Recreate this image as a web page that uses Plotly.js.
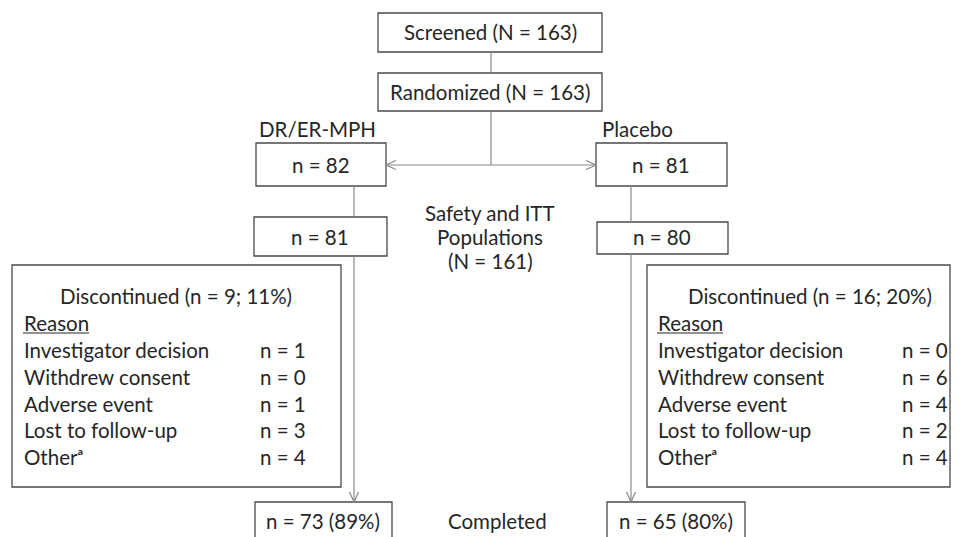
<!DOCTYPE html>
<html>
<head>
<meta charset="utf-8">
<script src="https://cdn.plot.ly/plotly-3.0.1.min.js"></script>
<style>html,body{margin:0;padding:0;background:#fff;}#chart{width:960px;height:537px;}</style>
</head>
<body>
<div id="chart"></div>
<script>
// ---- data ----
const screenedN = 163;
const randomizedN = 163;
const armNames = ["DR/ER-MPH", "Placebo"];
const armRandomized = [82, 81];
const armSafety = [81, 80];
const safetyITT = 161;
const discontinuedN = [9, 16];
const discontinuedPct = [11, 20];
const reasons = ["Investigator decision", "Withdrew consent", "Adverse event", "Lost to follow-up", "Other\u1D43"];
const reasonCountsLeft = [1, 0, 1, 3, 4];
const reasonCountsRight = [0, 6, 4, 2, 4];
const completedN = [73, 65];
const completedPct = [89, 80];

// ---- layout helpers ----
const FONT = "Lato, 'Noto Sans', 'DejaVu Sans', sans-serif";
const TXT = "#262626";
const BOX = "#4a4a4a";
const LINE = "#8a8a8a";
const FS = 20.5;
const shapes = [];
const annotations = [];

function box(x0, y0, x1, y1) {
  shapes.push({type: "rect", xref: "x", yref: "y", x0, y0, x1, y1,
    line: {color: BOX, width: 1.3}, fillcolor: "rgba(0,0,0,0)", layer: "below"});
}
function line(x0, y0, x1, y1, color, width) {
  shapes.push({type: "line", xref: "x", yref: "y", x0, y0, x1, y1,
    line: {color: color || LINE, width: width || 1.2}});
}
function text(x, y, t, anchor) {
  annotations.push({x, y, xref: "x", yref: "y", text: t, showarrow: false,
    xanchor: anchor || "center", yanchor: "middle",
    font: {family: FONT, size: FS, color: TXT}});
}
// open arrowhead: dir = 'down' | 'left' | 'right'
function head(x, y, dir) {
  const L = 10, W = 4.5;
  let p;
  if (dir === "down") p = `M${x - W},${y - L} L${x},${y} L${x + W},${y - L}`;
  else if (dir === "left") p = `M${x + L},${y - W} L${x},${y} L${x + L},${y + W}`;
  else p = `M${x - L},${y - W} L${x},${y} L${x - L},${y + W}`;
  shapes.push({type: "path", xref: "x", yref: "y", path: p, line: {color: LINE, width: 1.2}});
}

// Top boxes
box(378, 13, 602, 52);
text(490, 32, "Screened (N = " + screenedN + ")");
line(491, 52, 491, 73);
box(378, 73, 602, 111);
text(490, 92, "Randomized (N = " + randomizedN + ")");
line(491, 111, 491, 165);
line(386, 165, 596, 165);
head(386, 165, "left");
head(596, 165, "right");

// Arm labels
text(257, 129, armNames[0], "left");
text(600, 129, armNames[1], "left");

// Randomized arm boxes
box(256, 143, 386, 186);
text(321, 165, "n = " + armRandomized[0]);
box(596, 143, 727, 186);
text(661, 165, "n = " + armRandomized[1]);

// Connectors
line(354, 186, 354, 217);
line(631, 186, 631, 222);

// Safety boxes
box(254, 217, 387, 256);
text(320, 237, "n = " + armSafety[0]);
box(597, 222, 728, 254);
text(662, 237, "n = " + armSafety[1]);

// Center texts
text(490, 213, "Safety and ITT");
text(490, 237, "Populations");
text(490, 261, "(N = " + safetyITT + ")");

// Arrows to completed
line(354, 256, 354, 502);
head(354, 502, "down");
line(631, 254, 631, 502);
head(631, 502, "down");

// Discontinued boxes
box(12, 265, 341, 487);
box(647, 265, 950, 487);
text(176, 296, "Discontinued (n = " + discontinuedN[0] + "; " + discontinuedPct[0] + "%)");
text(810, 296, "Discontinued (n = " + discontinuedN[1] + "; " + discontinuedPct[1] + "%)");
text(22, 323, "Reason", "left");
line(23, 333, 89, 333, TXT, 1.2);
text(656, 323, "Reason", "left");
line(657, 333, 723, 333, TXT, 1.2);
const rowY0 = 350, rowDY = 26.8;
reasons.forEach((r, i) => {
  const y = rowY0 + i * rowDY;
  text(22, y, r, "left");
  text(258, y, "n = " + reasonCountsLeft[i], "left");
  text(656, y, r, "left");
  text(900, y, "n = " + reasonCountsRight[i], "left");
});

// Completed boxes
box(255, 502, 392, 560);
text(323, 521, "n = " + completedN[0] + " (" + completedPct[0] + "%)");
box(607, 502, 745, 560);
text(676, 521, "n = " + completedN[1] + " (" + completedPct[1] + "%)");
text(497, 521, "Completed");

const layout = {
  width: 960, height: 537,
  margin: {l: 0, r: 0, t: 0, b: 0},
  paper_bgcolor: "#fff", plot_bgcolor: "#fff",
  xaxis: {range: [0, 960], visible: false, fixedrange: true},
  yaxis: {range: [537, 0], visible: false, fixedrange: true},
  showlegend: false,
  shapes, annotations
};
Plotly.newPlot("chart", [], layout, {displayModeBar: false, staticPlot: true});
</script>
</body>
</html>
